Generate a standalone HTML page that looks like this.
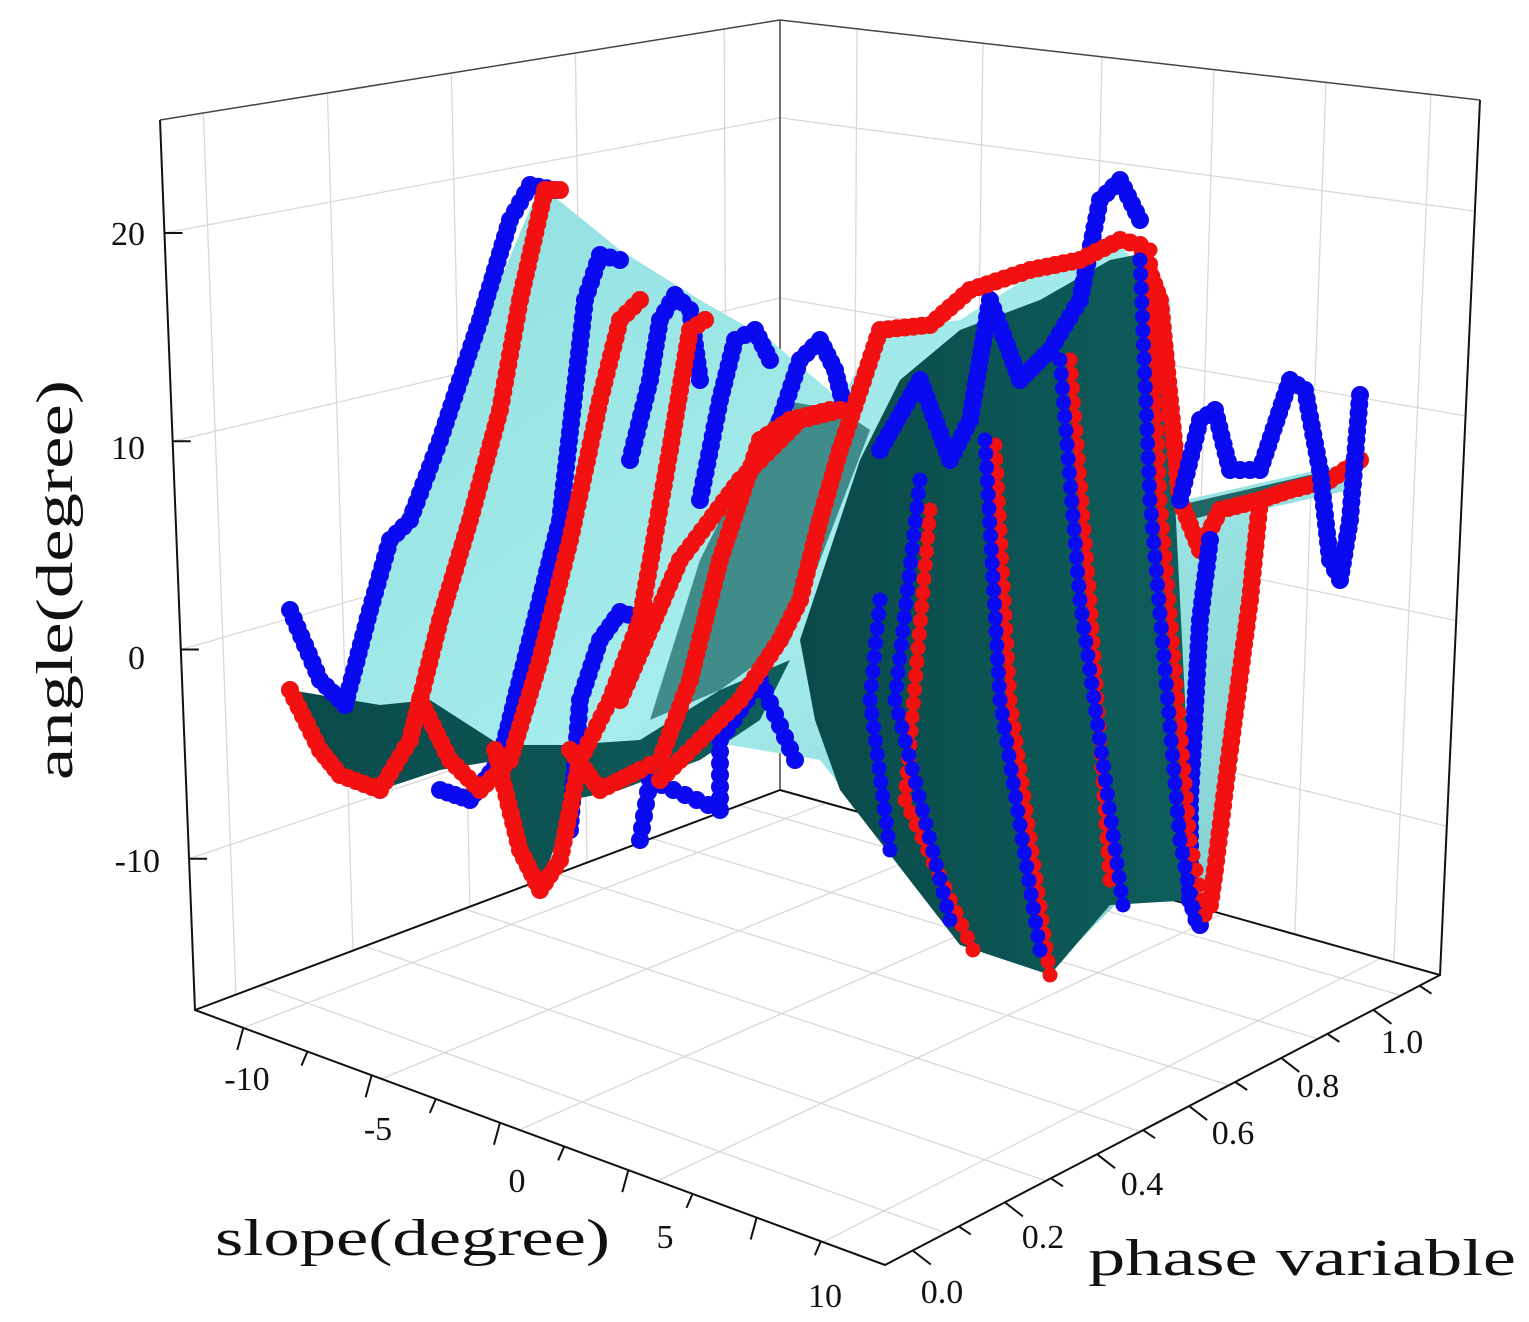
<!DOCTYPE html>
<html><head><meta charset="utf-8"><style>
html,body{margin:0;padding:0;background:#fff;}
svg{display:block;}
text{font-family:"Liberation Serif","Noto Serif CJK SC",serif;fill:#111;}
</style></head><body>
<svg id="s" width="1529" height="1322" viewBox="0 0 1529 1322" xmlns="http://www.w3.org/2000/svg">
<defs>
<linearGradient id="cy" x1="0" y1="0" x2="1" y2="1">
<stop offset="0" stop-color="#8fdede"/><stop offset="0.5" stop-color="#a6ecec"/><stop offset="1" stop-color="#7ccaca"/>
</linearGradient>
<linearGradient id="dk" x1="0" y1="0" x2="1" y2="0">
<stop offset="0" stop-color="#0a4a4a"/><stop offset="1" stop-color="#0e5e5c"/>
</linearGradient>
</defs>
<g id="grid" stroke="#d8d8d8" stroke-width="1.3" fill="none"></g>
<g id="axes" stroke="#111" stroke-width="2" fill="none"></g>
<g id="surf"></g>
<g id="dots"></g>
<g id="labels">
<text x="145" y="245" font-size="34" text-anchor="end">20</text>
<text x="145" y="459" font-size="34" text-anchor="end">10</text>
<text x="145" y="669" font-size="34" text-anchor="end">0</text>
<text x="160" y="872" font-size="34" text-anchor="end">-10</text>
<text x="247" y="1090" font-size="34" text-anchor="middle">-10</text>
<text x="378" y="1140" font-size="34" text-anchor="middle">-5</text>
<text x="517" y="1192" font-size="34" text-anchor="middle">0</text>
<text x="665" y="1248" font-size="34" text-anchor="middle">5</text>
<text x="825" y="1307" font-size="34" text-anchor="middle">10</text>
<text x="942" y="1303" font-size="34" text-anchor="middle">0.0</text>
<text x="1043" y="1248" font-size="34" text-anchor="middle">0.2</text>
<text x="1142" y="1195" font-size="34" text-anchor="middle">0.4</text>
<text x="1233" y="1144" font-size="34" text-anchor="middle">0.6</text>
<text x="1318" y="1097" font-size="34" text-anchor="middle">0.8</text>
<text x="1402" y="1053" font-size="34" text-anchor="middle">1.0</text>
<text x="215" y="1255" font-size="52" textLength="395" lengthAdjust="spacingAndGlyphs">slope(degree)</text>
<text x="1088" y="1275" font-size="52" textLength="428" lengthAdjust="spacingAndGlyphs">phase variable</text>
<text transform="translate(72,780) rotate(-90)" font-size="52" textLength="400" lengthAdjust="spacingAndGlyphs">angle(degree)</text>
</g>
</svg>
<script>
const NS="http://www.w3.org/2000/svg";
function el(p,t,a){const e=document.createElementNS(NS,t);for(const k in a)e.setAttribute(k,a[k]);p.appendChild(e);return e;}
function lerp(a,b,t){return [a[0]+(b[0]-a[0])*t,a[1]+(b[1]-a[1])*t];}
const TL=[160,120],BK=[780,20],TR=[1480,100],BKb=[780,790],BL=[195,1010],BR=[1440,975],FR=[885,1265];
const g=document.getElementById('grid');
function line(p,a,b){el(p,'line',{x1:a[0],y1:a[1],x2:b[0],y2:b[1]});}
const zf=[0.127,0.361,0.595,0.83];
zf.forEach(f=>{line(g,lerp(TL,BL,f),lerp(BK,BKb,f));line(g,lerp(BK,BKb,f),lerp(TR,BR,f));});
const sf=[0.07,0.27,0.47,0.67,0.91];
sf.forEach(f=>{line(g,lerp(TL,BK,f),lerp(BL,BKb,f));line(g,lerp(BL,FR,f),lerp(BKb,BR,f));});
const pf=[0.11,0.29,0.46,0.62,0.78,0.93];
pf.forEach(f=>{line(g,lerp(BK,TR,f),lerp(BKb,BR,f));line(g,lerp(FR,BR,f),lerp(BL,BKb,f));});
const ax=document.getElementById('axes');
el(ax,'polyline',{points:[TL,BL,FR,BR,TR].map(p=>p.join(',')).join(' ')});
el(ax,'polyline',{points:[TL,BK,TR].map(p=>p.join(',')).join(' '),stroke:'#444','stroke-width':1.5});
el(ax,'line',{x1:780,y1:20,x2:780,y2:790,stroke:'#444','stroke-width':1.5});
line(ax,BKb,BL);line(ax,BKb,BR);
[0.127,0.361,0.595,0.83].forEach(f=>{const p=lerp(TL,BL,f);line(ax,p,[p[0]+18,p[1]]);});
for(let i=0;i<=9;i++){const f=0.07+i*0.093;const p=lerp(BL,FR,f);line(ax,p,[p[0]-6,p[1]+(i%2?14:22)]);}
for(let i=0;i<=11;i++){const f=0.05+i*0.083;const p=lerp(FR,BR,f);line(ax,p,[p[0]+(i%2?12:18),p[1]+(i%2?8:14)]);}
const s=document.getElementById('surf');
function poly(pts,fill){el(s,'polygon',{points:pts.map(p=>p.join(',')).join(' '),fill:fill});}
poly([[290,690],[340,700],[400,520],[540,185],[620,250],[700,300],[770,340],[840,400],[880,330],[960,320],[1040,270],[1120,245],[1170,300],[1185,500],[1340,465],[1350,490],[1260,510],[1240,640],[1210,900],[1120,900],[1050,970],[960,940],[820,760],[700,740],[570,780],[540,890],[495,750],[430,710],[340,760]],'url(#cy)');
poly([[780,400],[840,410],[870,430],[820,560],[790,640],[720,690],[650,720],[700,560]],'#3f8c8a');
poly([[290,690],[380,705],[430,700],[500,745],[565,745],[640,740],[720,690],[790,660],[800,640],[760,720],[700,760],[620,790],[570,800],[540,890],[500,760],[440,770],[380,790],[330,770]],'url(#dk)');
poly([[800,640],[860,460],[900,380],[960,330],[1040,300],[1110,260],[1135,255],[1160,330],[1175,500],[1195,900],[1110,905],[1050,975],[960,945],[840,790],[815,720]],'url(#dk)');
poly([[1180,505],[1340,468],[1345,478],[1190,520]],'#1f6664');
const d=document.getElementById('dots');
function dots(col,pts,step,r){step=step||9;r=r||9;
 for(let i=0;i<pts.length-1;i++){const a=pts[i],b=pts[i+1];const L=Math.hypot(b[0]-a[0],b[1]-a[1]);const n=Math.max(1,Math.round(L/step));
  for(let k=0;k<n;k++){const p=lerp(a,b,k/n);el(d,'circle',{cx:p[0].toFixed(1),cy:p[1].toFixed(1),r:r,fill:col});}}
 const e=pts[pts.length-1];el(d,'circle',{cx:e[0],cy:e[1],r:r,fill:col});}
const B='#0a0af0',R='#f21010';
dots(B,[[290,610],[320,680],[345,705],[370,610],[390,540],[410,520],[440,440],[480,320],[510,220],[530,185],[555,190]]);
dots(B,[[440,790],[470,800],[500,760],[530,640],[560,520],[585,300],[600,255],[620,260]]);
dots(B,[[630,460],[650,380],[660,320],[675,295],[690,310],[700,380]]);
dots(B,[[700,500],[720,400],[735,340],[755,330],[770,360]]);
dots(B,[[780,420],[800,360],[820,340],[835,370],[845,410]]);
dots(B,[[570,830],[580,700],[600,640],[620,612],[645,620]]);
dots(B,[[640,840],[650,780],[720,810],[720,740],[760,680],[795,760]],12);
dots(R,[[290,690],[320,750],[340,775],[380,790],[410,740],[440,620],[470,520],[500,410],[520,300],[545,190],[560,190]]);
dots(R,[[420,700],[450,760],[480,790],[510,760],[540,660],[570,540],[600,400],[620,320],[640,300]]);
dots(R,[[495,750],[520,850],[540,890],[560,860],[580,760],[610,700],[640,620],[670,450],[690,330],[705,320]]);
dots(R,[[570,750],[600,790],[640,770],[660,760],[690,680],[720,560],[760,440],[790,420],[830,410]]);
dots(R,[[660,780],[700,740],[740,700],[780,640],[800,600],[820,520],[840,450]]);
dots(R,[[620,700],[680,560],[740,480],[800,420],[840,410]]);
dots(B,[[880,450],[920,380],[950,460],[970,420],[990,300],[1020,380],[1050,350],[1080,300],[1100,200],[1120,180],[1140,220]]);
dots(R,[[840,450],[880,330],[930,325],[970,290],[1030,270],[1080,260],[1120,240],[1140,245],[1160,300],[1170,400],[1180,500],[1200,550],[1220,510],[1260,500],[1290,490],[1330,480],[1360,460]]);
dots(B,[[1180,500],[1200,420],[1215,410],[1230,470],[1260,470],[1290,380],[1305,390],[1320,470],[1330,560],[1340,580],[1350,520],[1360,395]]);
dots(R,[[1260,500],[1250,600],[1230,750],[1215,870],[1210,905]]);
dots(B,[[1210,540],[1200,620],[1190,800],[1190,900],[1200,925]]);
dots(R,[[930,510],[905,800],[973,950]],14,7.5);dots(B,[[920,480],[895,700],[950,920]],14,7.5);
dots(R,[[995,445],[1010,700],[1050,975]],14,7.5);dots(B,[[985,440],[1000,700],[1040,950]],14,7.5);
dots(R,[[1070,360],[1090,600],[1110,880]],14,7.5);dots(B,[[1060,360],[1080,600],[1123,905]],14,7.5);
dots(R,[[1150,250],[1160,500],[1190,840],[1205,915]],14,7.5);dots(B,[[1140,260],[1150,500],[1180,840],[1195,920]],14,7.5);
dots(B,[[880,600],[870,700],[890,850]],14,7.5);
</script>
</body></html>
